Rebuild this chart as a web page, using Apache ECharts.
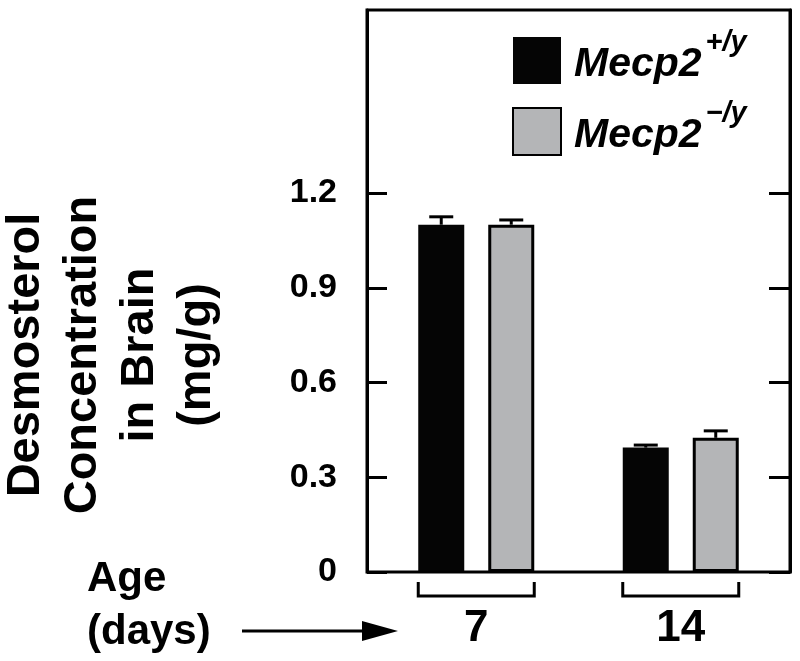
<!DOCTYPE html>
<html>
<head>
<meta charset="utf-8">
<script src="https://cdn.jsdelivr.net/npm/echarts@6/dist/echarts.min.js"></script>
<style>
html,body{margin:0;padding:0;background:#fff;}
#chart{width:800px;height:661px;}
</style>
</head>
<body>
<div id="chart"></div>
<script>
// ---- data ----
const categories = ['7', '14'];            // age (days)
const gene = 'Mecp2';
const genotypes = ['+/y', '\u2212/y'];
const wildType = [1.10, 0.394];
const wildTypeErr = [0.025, 0.008];
const nullType = [1.10, 0.425];
const nullTypeErr = [0.015, 0.022];
const yTicks = [0, 0.3, 0.6, 0.9, 1.2];
const yTickLabels = ['0', '0.3', '0.6', '0.9', '1.2'];
const yTitle = ['Desmosterol', 'Concentration', 'in Brain', '(mg/g)'];
const xTitle = ['Age', '(days)'];

// ---- styles ----
const FONT = '"Liberation Sans", Arial, Helvetica, sans-serif';
const BLACK = '#050505';
const GRAY = '#b4b5b7';
const BAR_W = 46;
const BAR_GAP = 24;
const OFF = (BAR_W + BAR_GAP) / 2;
const yMax = 1.78;
// frame of the plot (drawn as decoration); bars use an inner grid
const FRAME = { left: 367, top: 10, right: 790, bottom: 572 };
const INSET = 7;

const names = genotypes.map(g => gene + g);

function errorSeries(vals, errs, offset) {
  return {
    type: 'custom',
    z: 5,
    clip: false,
    silent: true,
    data: categories.map((c, i) => [c, vals[i], errs[i]]),
    encode: { x: 0, y: 1 },
    renderItem: function (params, api) {
      const base = api.coord([api.value(0), api.value(1)]);
      const top = api.coord([api.value(0), api.value(1) + api.value(2)]);
      const x = base[0] + offset;
      const st = { stroke: '#000', lineWidth: 3 };
      return {
        type: 'group',
        children: [
          { type: 'line', shape: { x1: x, y1: base[1], x2: x, y2: top[1] }, style: st },
          { type: 'line', shape: { x1: x - 12, y1: top[1], x2: x + 12, y2: top[1] }, style: st }
        ]
      };
    }
  };
}

const chart = echarts.init(document.getElementById('chart'), null, { renderer: 'canvas' });

const option = {
  backgroundColor: '#fff',
  animation: false,
  textStyle: { fontFamily: FONT },
  grid: {
    left: FRAME.left + INSET, right: 800 - FRAME.right + INSET,
    top: FRAME.top, bottom: 661 - FRAME.bottom,
    show: false
  },
  legend: {
    data: names,
    orient: 'vertical',
    left: 512, top: 28, padding: 0,
    itemWidth: 48, itemHeight: 47, itemGap: 6,
    icon: 'rect',
    formatter: function (name) {
      return '{m|' + gene + '}{s|' + name.slice(gene.length) + '}';
    },
    textStyle: {
      rich: {
        m: { fontFamily: FONT, fontSize: 41, fontWeight: 'bold', fontStyle: 'italic', color: '#000', lineHeight: 47, padding: [8, 0, 0, 8] },
        s: { fontFamily: FONT, fontSize: 29, fontWeight: 'bold', fontStyle: 'italic', color: '#000', lineHeight: 20, padding: [0, 0, 36, 4] }
      }
    }
  },
  xAxis: {
    type: 'category',
    data: categories,
    axisLine: { show: false },
    axisTick: { show: false },
    axisLabel: { fontFamily: FONT, fontSize: 44, fontWeight: 'bold', color: '#000', margin: 35, lineHeight: 44 },
    splitLine: { show: false }
  },
  yAxis: [
    {
      type: 'value', min: 0, max: yMax, interval: 0.3,
      position: 'left', offset: INSET,
      axisLine: { show: true, lineStyle: { color: '#000', width: 3 } },
      axisTick: { show: true, inside: true, length: 20, customValues: yTicks, lineStyle: { color: '#000', width: 3 } },
      axisLabel: {
        customValues: yTicks,
        formatter: function (v) { const i = yTicks.findIndex(t => Math.abs(t - v) < 1e-9); return i >= 0 ? yTickLabels[i] : ''; },
        fontFamily: FONT, fontSize: 34, fontWeight: 'bold', color: '#000', margin: 30
      },
      splitLine: { show: false }
    },
    {
      type: 'value', min: 0, max: yMax, interval: 0.3,
      position: 'right', offset: INSET,
      axisLine: { show: true, lineStyle: { color: '#000', width: 3 } },
      axisTick: { show: true, inside: true, length: 21, customValues: yTicks, lineStyle: { color: '#000', width: 3 } },
      axisLabel: { show: false },
      splitLine: { show: false }
    }
  ],
  series: [
    {
      name: names[0], type: 'bar', data: wildType,
      barWidth: BAR_W, barGap: (BAR_GAP / BAR_W * 100) + '%',
      itemStyle: { color: BLACK, borderColor: BLACK, borderWidth: 0 },
      z: 3
    },
    {
      name: names[1], type: 'bar', data: nullType,
      barWidth: BAR_W,
      itemStyle: { color: GRAY, borderColor: '#000', borderWidth: 3 },
      z: 3
    },
    errorSeries(wildType, wildTypeErr, -OFF),
    errorSeries(nullType, nullTypeErr, OFF),
    {
      type: 'custom',
      clip: false,
      silent: true,
      data: categories.map(c => [c, 0]),
      encode: { x: 0, y: 1 },
      renderItem: function (params, api) {
        const p = api.coord([api.value(0), 0]);
        const half = OFF + BAR_W / 2;
        return {
          type: 'polyline',
          shape: { points: [[p[0] - half, p[1] + 10], [p[0] - half, p[1] + 24], [p[0] + half, p[1] + 24], [p[0] + half, p[1] + 10]] },
          style: { stroke: '#000', lineWidth: 3, fill: null }
        };
      }
    }
  ],
  graphic: [
    {
      type: 'rect', z: 10, silent: true,
      shape: { x: FRAME.left, y: FRAME.top, width: FRAME.right - FRAME.left, height: FRAME.bottom - FRAME.top },
      style: { stroke: '#000', lineWidth: 3, fill: null }
    },
    {
      type: 'text', x: 112, y: 355, rotation: Math.PI / 2,
      style: {
        text: yTitle.join('\n'), fontFamily: FONT, fontSize: 47, fontWeight: 'bold',
        fill: '#000', textAlign: 'center', textVerticalAlign: 'middle', lineHeight: 57
      }
    },
    {
      type: 'text', left: 87, top: 553,
      style: {
        text: xTitle.join('\n'), fontFamily: FONT, fontSize: 42, fontWeight: 'bold',
        fill: '#000', textAlign: 'left', lineHeight: 53
      }
    },
    {
      type: 'line', shape: { x1: 242, y1: 631, x2: 370, y2: 631 },
      style: { stroke: '#000', lineWidth: 3 }
    },
    {
      type: 'polygon', shape: { points: [[362, 621], [398, 631], [362, 641]] },
      style: { fill: '#000' }
    }
  ]
};

chart.setOption(option);
</script>
</body>
</html>
